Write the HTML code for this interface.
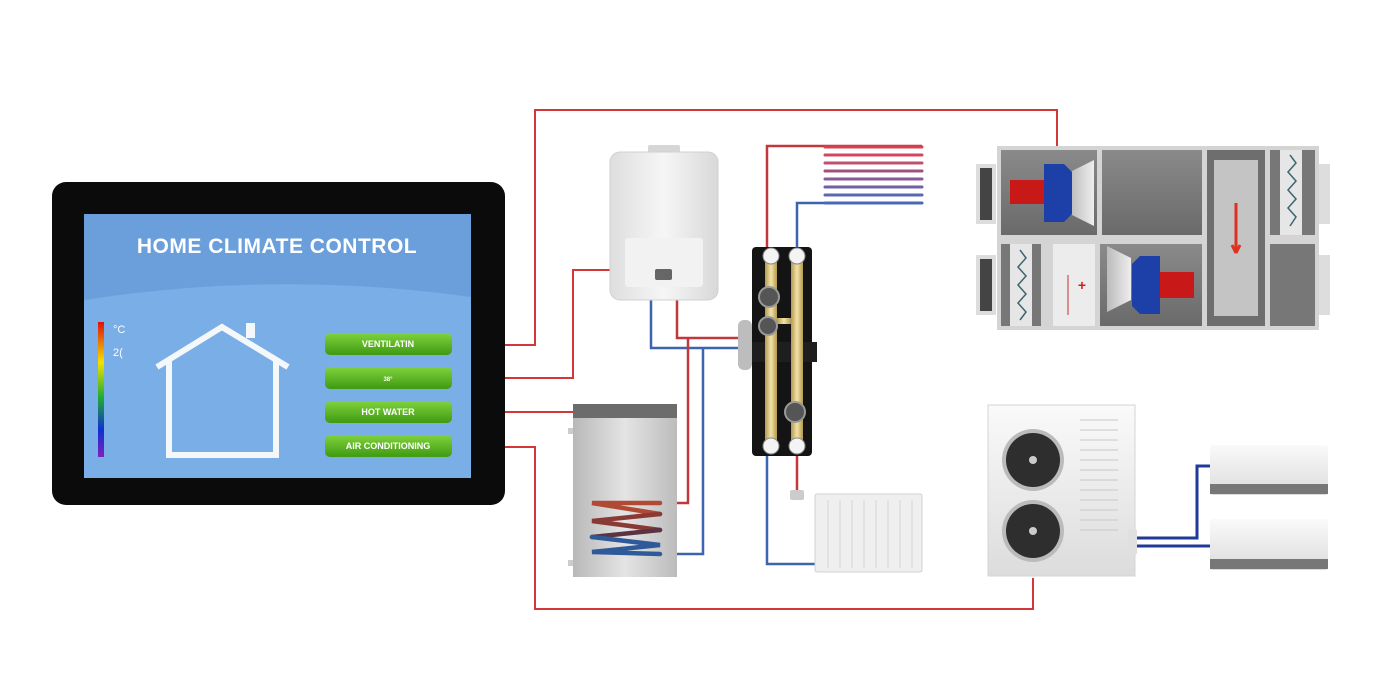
<!DOCTYPE html>
<html><head><meta charset="utf-8"><style>
html,body{margin:0;padding:0;background:#fff;width:1381px;height:689px;overflow:hidden}
svg{display:block}
</style></head><body>
<svg width="1381" height="689" viewBox="0 0 1381 689" xmlns="http://www.w3.org/2000/svg" font-family="Liberation Sans, sans-serif">
<defs>
<linearGradient id="btn" x1="0" y1="0" x2="0" y2="1"><stop offset="0" stop-color="#7fd23c"/><stop offset="1" stop-color="#3f9a12"/></linearGradient>
<linearGradient id="rain" x1="0" y1="0" x2="0" y2="1"><stop offset="0" stop-color="#e01010"/><stop offset=".3" stop-color="#f5e000"/><stop offset=".55" stop-color="#22b030"/><stop offset=".8" stop-color="#1030d0"/><stop offset="1" stop-color="#8020c0"/></linearGradient>
<linearGradient id="boil" x1="0" y1="0" x2="1" y2="0"><stop offset="0" stop-color="#dedede"/><stop offset=".5" stop-color="#f6f6f6"/><stop offset="1" stop-color="#d8d8d8"/></linearGradient>
<linearGradient id="tank" x1="0" y1="0" x2="1" y2="0"><stop offset="0" stop-color="#b8b8b8"/><stop offset=".5" stop-color="#e4e4e4"/><stop offset="1" stop-color="#bcbcbc"/></linearGradient>
<linearGradient id="brass" x1="0" y1="0" x2="1" y2="0"><stop offset="0" stop-color="#b49a50"/><stop offset=".5" stop-color="#f3e3a8"/><stop offset="1" stop-color="#b49a50"/></linearGradient>
<linearGradient id="vent" x1="0" y1="0" x2="0" y2="1"><stop offset="0" stop-color="#8a8a8a"/><stop offset="1" stop-color="#6a6a6a"/></linearGradient>
<linearGradient id="ac" x1="0" y1="0" x2="0" y2="1"><stop offset="0" stop-color="#fafafa"/><stop offset="1" stop-color="#dcdcdc"/></linearGradient>
<linearGradient id="cone" x1="0" y1="0" x2="1" y2="0"><stop offset="0" stop-color="#bbb"/><stop offset="1" stop-color="#eee"/></linearGradient>
</defs>

<g fill="none" stroke="#d2373a" stroke-width="2">
<polyline points="505,345 535,345 535,110 1057,110 1057,146"/>
<polyline points="505,378 573,378 573,270 610,270"/>
<polyline points="505,412 573,412"/>
<polyline points="505,447 535,447 535,609 1033,609 1033,578"/>
</g>

<rect x="52" y="182" width="453" height="323" rx="14" fill="#0b0b0b"/>
<rect x="84" y="214" width="387" height="264" fill="#79aee6"/>
<path d="M84,214 H471 V297 Q277,270 84,300 Z" fill="#6a9fdc"/>
<text x="277" y="253" text-anchor="middle" fill="#fff" font-size="21" font-weight="bold" letter-spacing="0.5">HOME CLIMATE CONTROL</text>
<rect x="98" y="322" width="6" height="135" fill="url(#rain)"/>
<text x="113" y="333" fill="#fff" font-size="11">°C</text>
<text x="113" y="356" fill="#fff" font-size="11">2(</text>
<g fill="none" stroke="#f5f8fb" stroke-width="6">
<polyline points="157,367 222,327 288,367"/>
<polyline points="169,360 169,455 276,455 276,360"/>
</g>
<rect x="246" y="323" width="9" height="15" fill="#f5f8fb"/>
<g font-size="9" font-weight="bold" fill="#fff" text-anchor="middle">
<rect x="325" y="333" width="127" height="22" rx="5" fill="url(#btn)"/><text x="388" y="347">VENTILATIN</text>
<rect x="325" y="367" width="127" height="22" rx="5" fill="url(#btn)"/><text x="388" y="381" font-size="6">38°</text>
<rect x="325" y="401" width="127" height="22" rx="5" fill="url(#btn)"/><text x="388" y="415">HOT WATER</text>
<rect x="325" y="435" width="127" height="22" rx="5" fill="url(#btn)"/><text x="388" y="449">AIR CONDITIONING</text>
</g>

<g fill="none" stroke-width="2.5">
<polyline stroke="#3c64b0" points="651,300 651,348 745,348"/>
<polyline stroke="#c2383a" points="677,300 677,338 740,338"/>
<polyline stroke="#c2383a" points="688,338 688,503 676,503"/>
<polyline stroke="#3c64b0" points="703,348 703,554 676,554"/>
<polyline stroke="#c2383a" points="767,248 767,146 922,146"/>
<polyline stroke="#3c64b0" points="797,248 797,203 922,203"/>
<polyline stroke="#c2383a" points="797,456 797,494"/>
<polyline stroke="#3c64b0" points="767,456 767,564 815,564"/>
</g>

<rect x="648" y="145" width="32" height="9" rx="2" fill="#d6d6d6"/>
<rect x="610" y="152" width="108" height="148" rx="10" fill="url(#boil)" stroke="#d0d0d0"/>
<rect x="625" y="238" width="78" height="49" rx="3" fill="#f2f2f2"/>
<rect x="655" y="269" width="17" height="11" rx="2" fill="#666"/>

<rect x="573" y="404" width="104" height="173" fill="url(#tank)"/>
<rect x="573" y="404" width="104" height="14" fill="#6c6c6c"/>
<rect x="568" y="428" width="5" height="6" fill="#ccc"/><rect x="568" y="560" width="5" height="6" fill="#ccc"/>
<g fill="none" stroke-width="4.5" stroke-linecap="round">
<path d="M660,503 H592 L660,514" stroke="#b04a34"/>
<path d="M660,514 L592,521 L660,530" stroke="#8a3a34"/>
<path d="M660,530 L592,537" stroke="#5a3442"/>
<path d="M592,537 L660,545 L592,552 L660,554" stroke="#2f5a9a"/>
</g>

<g stroke-width="3" stroke-linecap="round">
<line x1="825" y1="147" x2="922" y2="147" stroke="#d84050"/>
<line x1="825" y1="155" x2="922" y2="155" stroke="#d04860"/>
<line x1="825" y1="163" x2="922" y2="163" stroke="#c05070"/>
<line x1="825" y1="171" x2="922" y2="171" stroke="#a05080"/>
<line x1="825" y1="179" x2="922" y2="179" stroke="#8a5a98"/>
<line x1="825" y1="187" x2="922" y2="187" stroke="#7060a8"/>
<line x1="825" y1="195" x2="922" y2="195" stroke="#5a68b0"/>
<line x1="825" y1="203" x2="922" y2="203" stroke="#4868b8"/>
</g>

<rect x="752" y="247" width="60" height="209" rx="4" fill="#141414"/>
<rect x="752" y="342" width="65" height="20" fill="#1e1e1e"/>
<rect x="738" y="320" width="14" height="50" rx="6" fill="#bdbdbd"/>
<rect x="765" y="262" width="12" height="180" fill="url(#brass)"/>
<rect x="791" y="262" width="12" height="180" fill="url(#brass)"/>
<rect x="777" y="318" width="14" height="6" fill="url(#brass)"/>
<g fill="#f4f4f4" stroke="#888"><circle cx="771" cy="256" r="8"/><circle cx="797" cy="256" r="8"/><circle cx="771" cy="446" r="8"/><circle cx="797" cy="446" r="8"/></g>
<g fill="#555" stroke="#999" stroke-width="2"><circle cx="769" cy="297" r="10"/><circle cx="768" cy="326" r="9"/><circle cx="795" cy="412" r="10"/></g>

<rect x="815" y="494" width="107" height="78" rx="2" fill="#efefef" stroke="#d0d0d0"/>
<g stroke="#d6d6d6"><line x1="828" y1="500" x2="828" y2="568"/><line x1="840" y1="500" x2="840" y2="568"/><line x1="852" y1="500" x2="852" y2="568"/><line x1="864" y1="500" x2="864" y2="568"/><line x1="876" y1="500" x2="876" y2="568"/><line x1="888" y1="500" x2="888" y2="568"/><line x1="900" y1="500" x2="900" y2="568"/><line x1="912" y1="500" x2="912" y2="568"/></g>
<rect x="790" y="490" width="14" height="10" rx="2" fill="#ccc"/>

<rect x="976" y="164" width="20" height="60" fill="#ddd"/><rect x="980" y="168" width="12" height="52" fill="#444"/>
<rect x="976" y="255" width="20" height="60" fill="#ddd"/><rect x="980" y="259" width="12" height="52" fill="#444"/>
<rect x="1318" y="164" width="12" height="60" fill="#ddd"/><rect x="1318" y="255" width="12" height="60" fill="#ddd"/>
<rect x="997" y="146" width="322" height="184" fill="#d4d4d4"/>
<rect x="1001" y="150" width="96" height="85" fill="url(#vent)"/>
<rect x="1102" y="150" width="100" height="85" fill="url(#vent)"/>
<rect x="1207" y="150" width="58" height="176" fill="#6e6e6e"/>
<rect x="1214" y="160" width="44" height="156" fill="#c4c4c4"/>
<rect x="1270" y="150" width="45" height="85" fill="#777"/><rect x="1280" y="150" width="22" height="85" fill="#e6e6e6"/>
<rect x="1001" y="244" width="40" height="82" fill="#777"/><rect x="1010" y="244" width="22" height="82" fill="#e6e6e6"/>
<rect x="1053" y="244" width="42" height="82" fill="#ececec"/>
<rect x="1100" y="244" width="102" height="82" fill="url(#vent)"/>
<rect x="1270" y="244" width="45" height="82" fill="#777"/>
<polyline points="1290,155 1296,163 1288,172 1296,181 1288,190 1296,199 1288,208 1296,217 1290,226" fill="none" stroke="#3b6670" stroke-width="1.5"/>
<polyline points="1020,250 1026,258 1018,267 1026,276 1018,285 1026,294 1018,303 1026,312 1020,320" fill="none" stroke="#3b6670" stroke-width="1.5"/>
<path d="M1070,172 L1094,160 V226 L1070,214 Z" fill="url(#cone)"/>
<rect x="1010" y="180" width="34" height="24" fill="#c81818"/>
<path d="M1044,164 h20 l8,8 v42 l-8,8 h-20z" fill="#1c3fa8"/>
<path d="M1131,258 L1107,246 V312 L1131,300 Z" fill="url(#cone)"/>
<rect x="1160" y="272" width="34" height="26" fill="#c81818"/>
<path d="M1160,256 h-20 l-8,8 v42 l8,8 h20z" fill="#1c3fa8"/>
<path d="M1236,203 v50 l-4,-8 m4,8 l4,-8" stroke="#e03020" stroke-width="3" fill="none"/>
<line x1="1068" y1="275" x2="1068" y2="315" stroke="#c03030"/>
<text x="1082" y="290" fill="#d02020" font-size="14" font-weight="bold" text-anchor="middle">+</text>

<rect x="988" y="405" width="147" height="171" fill="url(#ac)" stroke="#d4d4d4"/>
<circle cx="1033" cy="460" r="31" fill="#bbb"/><circle cx="1033" cy="460" r="27" fill="#2e2e2e"/><circle cx="1033" cy="460" r="4" fill="#ccc"/>
<circle cx="1033" cy="531" r="31" fill="#bbb"/><circle cx="1033" cy="531" r="27" fill="#2e2e2e"/><circle cx="1033" cy="531" r="4" fill="#ccc"/>
<g stroke="#c8c8c8"><line x1="1080" y1="420" x2="1118" y2="420"/><line x1="1080" y1="430" x2="1118" y2="430"/><line x1="1080" y1="440" x2="1118" y2="440"/><line x1="1080" y1="450" x2="1118" y2="450"/><line x1="1080" y1="460" x2="1118" y2="460"/><line x1="1080" y1="470" x2="1118" y2="470"/><line x1="1080" y1="480" x2="1118" y2="480"/><line x1="1080" y1="490" x2="1118" y2="490"/><line x1="1080" y1="500" x2="1118" y2="500"/><line x1="1080" y1="510" x2="1118" y2="510"/><line x1="1080" y1="520" x2="1118" y2="520"/><line x1="1080" y1="530" x2="1118" y2="530"/></g>
<rect x="1128" y="530" width="9" height="24" fill="#e0e0e0"/>
<g fill="none" stroke="#1f3a9a" stroke-width="3">
<polyline points="1137,538 1197,538 1197,466 1210,466"/>
<polyline points="1137,546 1210,546"/>
</g>
<rect x="1210" y="445" width="118" height="50" rx="3" fill="url(#ac)"/><rect x="1210" y="484" width="118" height="10" fill="#777"/>
<rect x="1210" y="519" width="118" height="51" rx="3" fill="url(#ac)"/><rect x="1210" y="559" width="118" height="10" fill="#777"/>
</svg>
</body></html>
